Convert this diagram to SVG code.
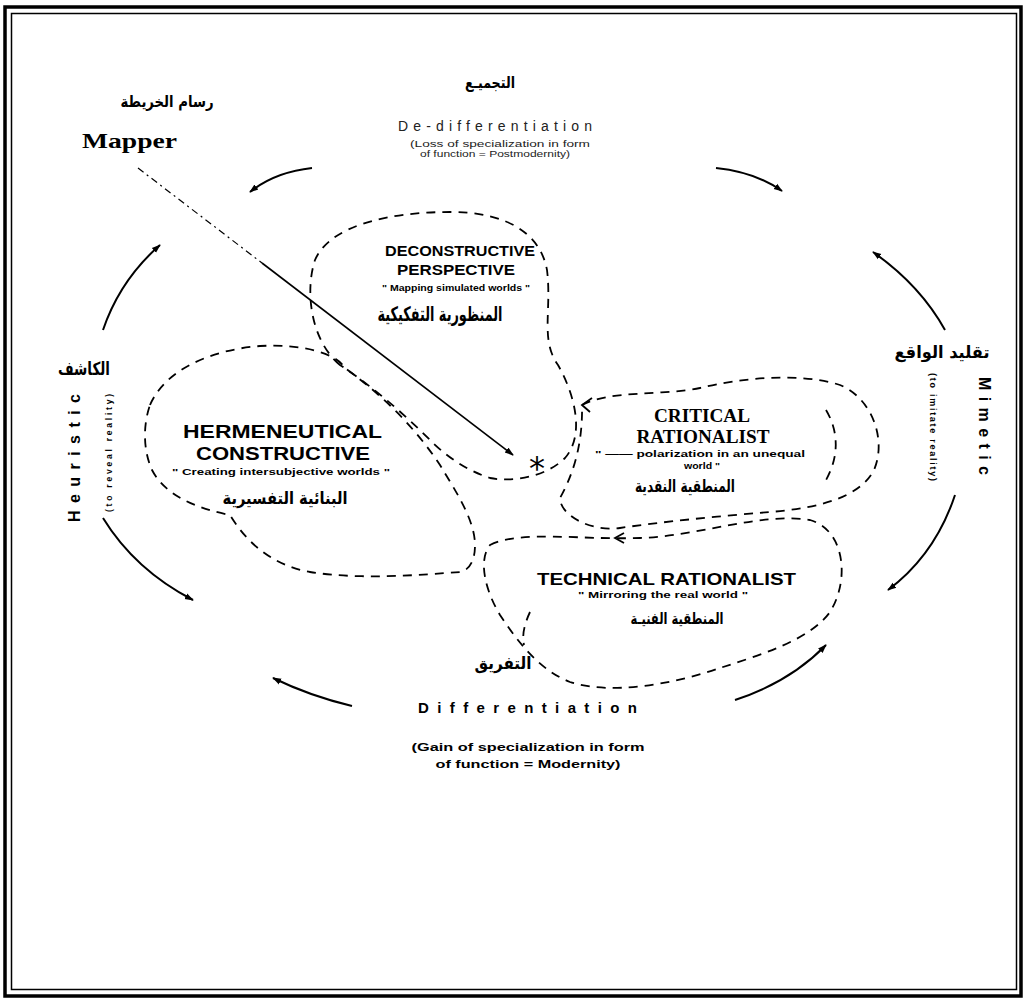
<svg xmlns="http://www.w3.org/2000/svg" width="1026" height="1003" viewBox="0 0 1026 1003">
<defs>
<marker id="ah" viewBox="0 0 10 10" refX="9" refY="5" markerWidth="9" markerHeight="9" markerUnits="userSpaceOnUse" orient="auto">
<path d="M0,1.5 L10,5 L0,8.5 Z" fill="#000"/>
</marker>
<style>
.arc{fill:none;stroke:#000;stroke-width:2;}
.blob{fill:none;stroke:#000;stroke-width:1.8;stroke-dasharray:9 7;}
.ar{font-family:"DejaVu Sans",sans-serif;font-weight:bold;fill:#000;text-anchor:middle;}
.ti{font-family:"Liberation Sans",sans-serif;font-weight:bold;fill:#000;}
.tis{font-family:"Liberation Serif",serif;font-weight:bold;fill:#000;}
.sm{font-family:"Liberation Sans",sans-serif;font-weight:bold;fill:#000;}
.sp{font-family:"Liberation Sans",sans-serif;fill:#222;}
</style>
</defs>
<rect width="1026" height="1003" fill="#fff"/>
<rect x="5" y="7" width="1016" height="989" fill="none" stroke="#000" stroke-width="3.5"/>
<rect x="11.5" y="13.5" width="1005" height="976" fill="none" stroke="#000" stroke-width="1.5"/>

<g id="connectors">
<path class="arc" d="M312,168 Q275,172 250,192" marker-end="url(#ah)"/>
<path class="arc" d="M716,168 Q755,172 782,191" marker-end="url(#ah)"/>
<path class="arc" d="M945,330 Q920,285 873,252" marker-end="url(#ah)"/>
<path class="arc" d="M955,495 Q935,555 888,590" marker-end="url(#ah)"/>
<path class="arc" d="M735,700 Q790,682 826,645" marker-end="url(#ah)"/>
<path class="arc" d="M352,706 Q310,696 273,678" marker-end="url(#ah)"/>
<path class="arc" d="M103,518 Q135,570 193,600" marker-end="url(#ah)"/>
<path class="arc" d="M103,330 Q120,280 160,245" marker-end="url(#ah)"/>
<path d="M138,168 L262,263" fill="none" stroke="#000" stroke-width="1.2" stroke-dasharray="7 4 2 4"/>
<path d="M262,263 L513,455" fill="none" stroke="#000" stroke-width="1.6" marker-end="url(#ah)"/>
<path d="M592,398 L582,405 L590,412" fill="none" stroke="#000" stroke-width="1.8"/>
<path d="M624,533 L615,538 L624,543" fill="none" stroke="#000" stroke-width="1.8"/>
</g>

<g id="mapper">
<text x="167" y="107" class="ar" font-size="16" font-weight="normal" textLength="93" lengthAdjust="spacingAndGlyphs">رسام الخريطة</text>
<text x="82" y="148" class="tis" font-size="21" textLength="95" lengthAdjust="spacingAndGlyphs">Mapper</text>
</g>

<g id="dedifferentiation">
<text x="490" y="88" class="ar" font-size="16" font-weight="normal" textLength="50" lengthAdjust="spacingAndGlyphs">التجميـع</text>
<text x="398" y="131" class="sp" font-size="14" textLength="194" lengthAdjust="spacing" fill="#666">De-differentiation</text>
<text x="500" y="147" class="sp" font-size="9" text-anchor="middle" textLength="180" lengthAdjust="spacingAndGlyphs" fill="#555">(Loss of specialization in form</text>
<text x="495" y="157" class="sp" font-size="9" text-anchor="middle" textLength="150" lengthAdjust="spacingAndGlyphs" fill="#555">of function = Postmodernity)</text>
</g>

<g id="heuristic">
<text x="84" y="375" class="ar" font-size="18" textLength="52" lengthAdjust="spacingAndGlyphs">الكاشف</text>
<text transform="translate(80,522) rotate(-90)" class="sm" font-size="16" textLength="128" lengthAdjust="spacing">Heuristic</text>
<text transform="translate(112,512) rotate(-90)" class="sm" font-size="8.5" textLength="118" lengthAdjust="spacing">(to reveal reality)</text>
</g>

<g id="mimetic">
<text x="942" y="358" class="ar" font-size="17" textLength="95" lengthAdjust="spacingAndGlyphs">تقليد الواقع</text>
<text transform="translate(979,377) rotate(90)" class="sm" font-size="16" textLength="98" lengthAdjust="spacing">Mimetic</text>
<text transform="translate(930,373) rotate(90)" class="sm" font-size="9" textLength="108" lengthAdjust="spacing">(to imitate reality)</text>
</g>

<g id="differentiation">
<text x="503" y="669" class="ar" font-size="17" textLength="57" lengthAdjust="spacingAndGlyphs">التفريق</text>
<text x="418" y="713" class="sm" font-size="15" textLength="219" lengthAdjust="spacing">Differentiation</text>
<text x="528" y="751" class="sm" font-size="11" text-anchor="middle" textLength="233" lengthAdjust="spacingAndGlyphs">(Gain of specialization in form</text>
<text x="528" y="768" class="sm" font-size="11" text-anchor="middle" textLength="185" lengthAdjust="spacingAndGlyphs">of function = Modernity)</text>
</g>

<g id="deconstructive">
<path class="blob" d="M340,365 C310,340 305,290 315,260 C330,225 390,212 450,212 C505,212 540,232 547,270 C552,310 540,340 558,365 C575,395 585,435 565,458 C545,478 510,482 490,478 C465,470 445,455 430,440 C400,410 370,385 340,365 Z"/>
<text x="385" y="256" class="ti" font-size="14" textLength="150" lengthAdjust="spacingAndGlyphs">DECONSTRUCTIVE</text>
<text x="397" y="275" class="ti" font-size="14" textLength="118" lengthAdjust="spacingAndGlyphs">PERSPECTIVE</text>
<text x="456" y="291" class="sm" font-size="8.5" text-anchor="middle" textLength="148" lengthAdjust="spacingAndGlyphs">" Mapping simulated worlds "</text>
<text x="440" y="321" class="ar" font-size="20" textLength="125" lengthAdjust="spacingAndGlyphs">المنظورية التفكيكية</text>
</g>

<g id="hermeneutical">
<path class="blob" d="M150,405 C165,370 210,350 260,346 C300,344 335,352 345,368 C375,390 410,420 440,465 C455,490 475,520 475,545 C475,560 470,570 460,572 C420,575 360,580 310,572 C270,565 245,540 230,515 C195,508 165,495 152,470 C143,450 143,425 150,405 Z"/>
<text x="183" y="438" class="ti" font-size="19" font-weight="600" textLength="199" lengthAdjust="spacingAndGlyphs">HERMENEUTICAL</text>
<text x="196" y="460" class="ti" font-size="19" font-weight="600" textLength="174" lengthAdjust="spacingAndGlyphs">CONSTRUCTIVE</text>
<text x="281" y="475" class="sm" font-size="9.5" text-anchor="middle" textLength="218" lengthAdjust="spacingAndGlyphs">" Creating intersubjective worlds "</text>
<text x="285" y="504" class="ar" font-size="17" textLength="125" lengthAdjust="spacingAndGlyphs">البنائية التفسيرية</text>
</g>

<g id="critical">
<path class="blob" d="M582,405 C610,390 660,396 700,388 C740,378 800,372 840,385 C872,398 887,440 874,470 C860,497 820,508 770,512 C720,516 660,522 620,528 C590,532 560,515 560,498 C570,480 583,450 582,405 Z"/>
<path class="blob" d="M826,410 C838,430 840,455 826,480"/>
<text x="702" y="422" class="tis" font-size="18" text-anchor="middle" textLength="96" lengthAdjust="spacingAndGlyphs">CRITICAL</text>
<text x="703" y="443" class="tis" font-size="18" text-anchor="middle" textLength="133" lengthAdjust="spacingAndGlyphs">RATIONALIST</text>
<text x="700" y="457" class="sm" font-size="8.5" text-anchor="middle" textLength="210" lengthAdjust="spacingAndGlyphs">" —— polarization in an unequal</text>
<text x="702" y="469" class="sm" font-size="8.5" text-anchor="middle" textLength="36" lengthAdjust="spacingAndGlyphs">world "</text>
<text x="685" y="492" class="ar" font-size="17" textLength="100" lengthAdjust="spacingAndGlyphs">المنطقية النقدية</text>
</g>

<g id="technical">
<path class="blob" d="M490,545 C520,530 580,540 640,538 C700,536 760,512 810,520 C845,530 850,580 830,612 C810,640 760,655 720,668 C670,685 610,695 570,682 C540,670 520,645 500,615 C485,590 478,560 490,545 Z"/>
<path class="blob" d="M530,612 C524,625 522,635 524,645"/>
<text x="537" y="585" class="ti" font-size="17" font-weight="600" textLength="259" lengthAdjust="spacingAndGlyphs">TECHNICAL RATIONALIST</text>
<text x="663" y="598" class="sm" font-size="9" text-anchor="middle" textLength="170" lengthAdjust="spacingAndGlyphs">" Mirroring the real world "</text>
<text x="677" y="624" class="ar" font-size="16" textLength="93" lengthAdjust="spacingAndGlyphs">المنطقية الفنيـة</text>
</g>

<g id="center">
<text x="537" y="479" font-family="DejaVu Sans,sans-serif" font-size="32" text-anchor="middle" fill="#000">*</text>
</g>
</svg>
